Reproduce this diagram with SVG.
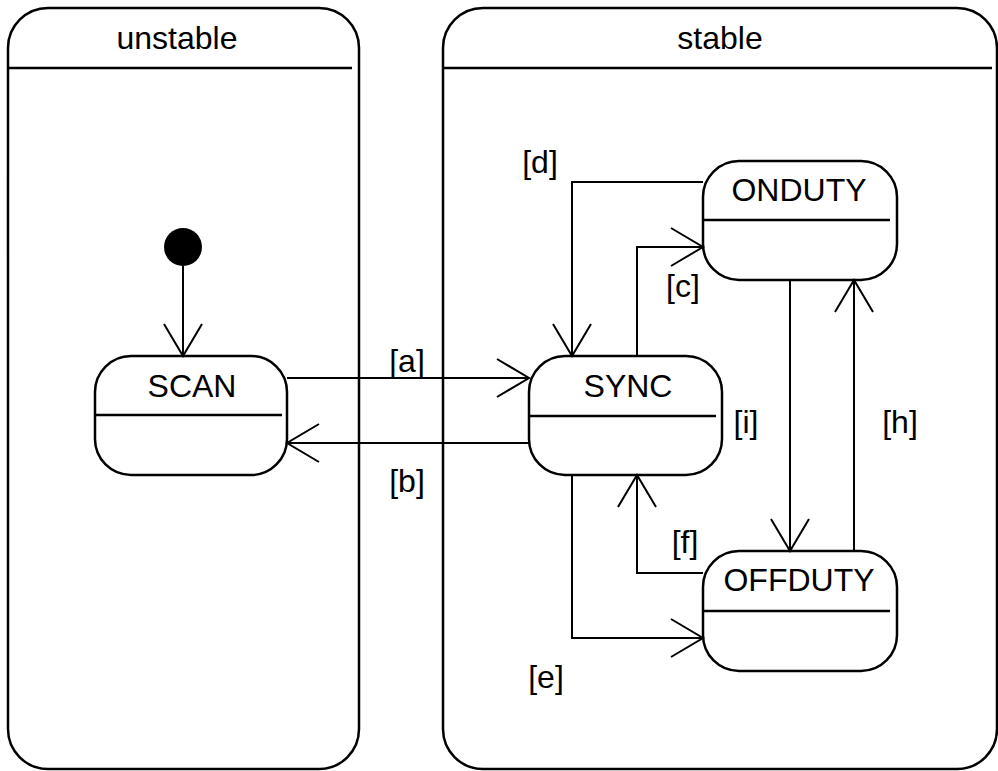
<svg xmlns="http://www.w3.org/2000/svg" width="998" height="771" viewBox="0 0 998 771">
<style>
text{font-family:"Liberation Sans",Arial,Helvetica,sans-serif;font-size:32px;fill:#000}
.c{text-anchor:middle}
.box{fill:#fff;stroke:#000;stroke-width:2.5}
.div{stroke:#000;stroke-width:2.5}
.conn path{fill:none;stroke:#000;stroke-width:2;marker-end:url(#arr)}
</style>
<defs>
<marker id="arr" viewBox="-34 -21 36 42" refX="0" refY="0" markerWidth="36" markerHeight="42" markerUnits="userSpaceOnUse" orient="auto">
<path d="M-32,-19 L0,0 L-32,19" fill="none" stroke="#000" stroke-width="2"/>
</marker>
</defs>
<rect width="998" height="771" fill="#fff"/>
<g id="unstable">
<rect class="box" x="8" y="8" width="351" height="761" rx="40" ry="40"/>
<line class="div" x1="8" y1="68" x2="352" y2="68"/>
<text class="c" x="177" y="49">unstable</text>
</g>
<g id="stable">
<rect class="box" x="443" y="8" width="554" height="761" rx="40" ry="40"/>
<line class="div" x1="443" y1="68" x2="992" y2="68"/>
<text class="c" x="720" y="49">stable</text>
</g>
<g id="initial">
<circle cx="183" cy="247" r="19" fill="#000"/>
</g>
<g id="SCAN">
<rect class="box" x="95" y="356" width="192" height="119" rx="36" ry="36"/>
<line class="div" x1="95" y1="415" x2="282" y2="415"/>
<text class="c" x="192" y="397">SCAN</text>
</g>
<g id="SYNC">
<rect class="box" x="529" y="356" width="193" height="119" rx="36" ry="36"/>
<line class="div" x1="529" y1="416" x2="716" y2="416"/>
<text class="c" x="628" y="397">SYNC</text>
</g>
<g id="ONDUTY">
<rect class="box" x="703" y="161" width="194" height="119" rx="36" ry="36"/>
<line class="div" x1="703" y1="220" x2="890" y2="220"/>
<text class="c" x="799" y="201">ONDUTY</text>
</g>
<g id="OFFDUTY">
<rect class="box" x="703" y="551" width="194" height="120" rx="36" ry="36"/>
<line class="div" x1="703" y1="611" x2="890" y2="611"/>
<text class="c" x="799" y="591">OFFDUTY</text>
</g>
<g id="connectors" class="conn">
<path d="M183,266 L183,356"/>
<path d="M287,378 L529,378"/>
<path d="M529,443 L287,443"/>
<path d="M703,182 L572,182 L572,356"/>
<path d="M637,356 L637,247 L703,247"/>
<path d="M790,280 L790,551"/>
<path d="M854,551 L854,280"/>
<path d="M703,573 L637,573 L637,475"/>
<path d="M572,475 L572,638 L703,638"/>
</g>
<g id="labels">
<text class="c" x="407" y="372">[a]</text>
<text class="c" x="407" y="492">[b]</text>
<text class="c" x="540" y="173">[d]</text>
<text class="c" x="683" y="297">[c]</text>
<text class="c" x="746" y="433">[i]</text>
<text class="c" x="900" y="433">[h]</text>
<text class="c" x="685" y="553">[f]</text>
<text class="c" x="546" y="688">[e]</text>
</g>
</svg>
